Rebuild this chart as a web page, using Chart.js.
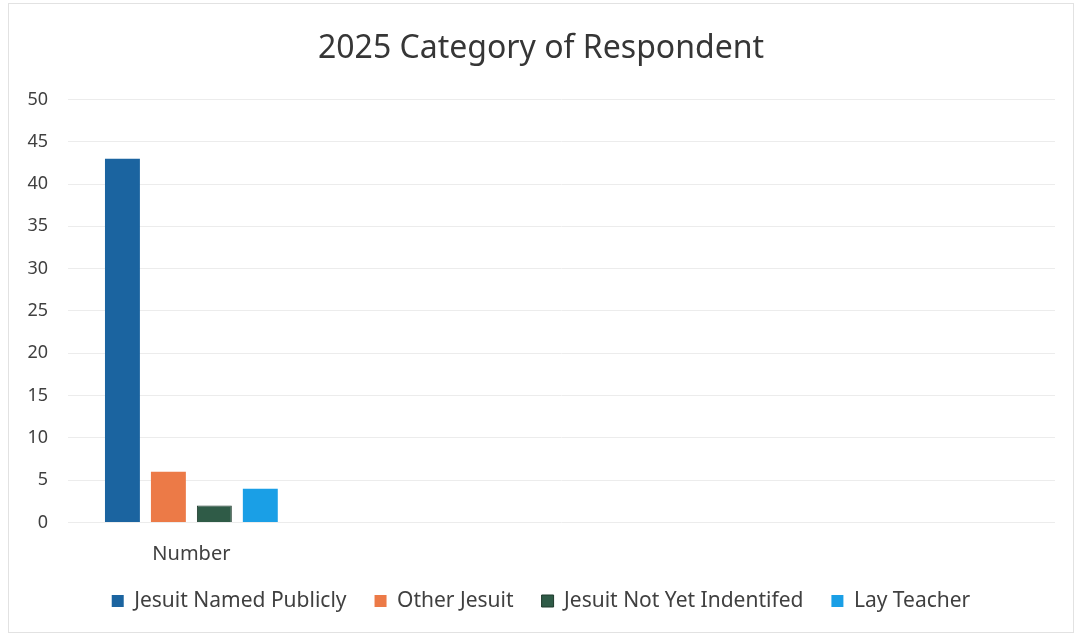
<!DOCTYPE html>
<html>
<head>
<meta charset="utf-8">
<script src="https://cdn.jsdelivr.net/npm/chart.js@4"></script>
<style>
  html, body { margin: 0; padding: 0; background: #fff; }
  #wrap { position: absolute; left: 8px; top: 3px; width: 1066px; height: 630px; border: 1px solid #e2e2e2; box-sizing: border-box; overflow: hidden; }
  #inner { position: relative; width: 1064px; height: 628px; }
  canvas { display: block; }
</style>
</head>
<body>
<div id="wrap"><div id="inner"><canvas id="chart"></canvas></div></div>
<script>
// data
const categories = ['Number', '', '', ''];
const seriesNames = ['Jesuit Named Publicly', 'Other Jesuit', 'Jesuit Not Yet Indentifed', 'Lay Teacher'];
const namedPublicly = [43, null, null, null];
const otherJesuit = [6, null, null, null];
const notYetIdentified = [2, null, null, null];
const layTeacher = [4, null, null, null];
const seriesColors = ['#1b64a0', '#ec7a47', '#2f5b47', '#1a9fe6'];

const font = '"Noto Sans", "Liberation Sans", sans-serif';

const values = [namedPublicly, otherJesuit, notYetIdentified, layTeacher];
const datasets = seriesNames.map((name, i) => ({
  label: name,
  data: values[i],
  backgroundColor: seriesColors[i],
  borderColor: i === 2 ? '#1f3a2c' : seriesColors[i],
  borderWidth: i === 2 ? 1 : 0,
  barPercentage: 0.76,
  categoryPercentage: 0.745
}));

new Chart(document.getElementById('chart'), {
  type: 'bar',
  data: { labels: categories, datasets },
  options: {
    responsive: true,
    maintainAspectRatio: false,
    animation: false,
    layout: { padding: { left: 18, right: 18, top: 26, bottom: 10.5 } },
    scales: {
      x: {
        grid: { display: false, drawTicks: false },
        border: { display: false },
        ticks: { color: '#404040', font: { family: font, size: 20 }, padding: 20 },
        // fixed axis height so the legend sits close under the label
        afterFit: (scale) => {
          scale.height = 40;
          scale.paddingLeft = 0;
          scale.paddingRight = 0;
        }
      },
      y: {
        min: 0,
        max: 50,
        grid: { color: '#ececec', lineWidth: 1, drawTicks: false },
        border: { display: false },
        ticks: { stepSize: 5, color: '#404040', font: { family: font, size: 18 }, padding: 20 },
        afterFit: (scale) => { scale.width = 41; }
      }
    },
    plugins: {
      title: {
        display: true,
        text: '2025 Category of Respondent',
        color: '#363636',
        font: { family: font, size: 32, weight: 'normal' },
        padding: { top: 0, bottom: 31 }
      },
      legend: {
        position: 'bottom',
        labels: {
          color: '#404040',
          font: { family: font, size: 21 },
          boxWidth: 12,
          boxHeight: 12,
          padding: 28
        }
      },
      tooltip: { enabled: false }
    }
  }
});
</script>
</body>
</html>
